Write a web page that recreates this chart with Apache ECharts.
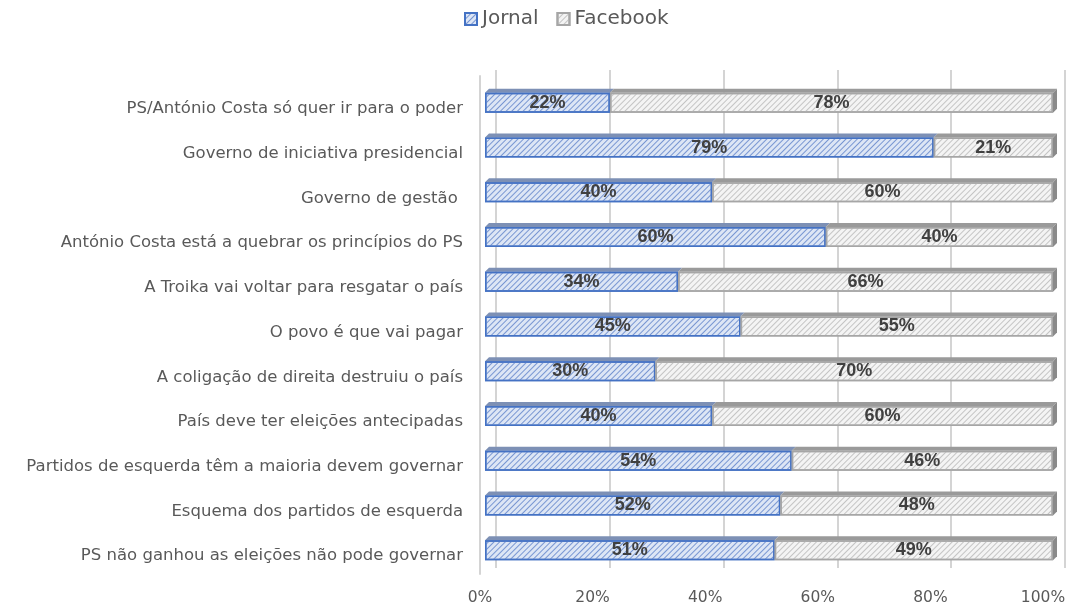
<!DOCTYPE html>
<html lang="pt">
<head>
    <meta charset="UTF-8">
</head>
<style>
    html, body {
        width: 100%;
        height: 100%;
        margin: 0;
        background: #ffffff;
    }
</style>
<body>

<div id="main" style="width:1070px;height:612px;"></div>

<script src="https://cdn.jsdelivr.net/npm/echarts@6/dist/echarts.min.js" type="text/javascript"></script>

<script type="text/javascript">
    // categorias (de cima para baixo)
    var categorias = [
        'PS/António Costa só quer ir para o poder',
        'Governo de iniciativa presidencial',
        'Governo de gestão ',
        'António Costa está a quebrar os princípios do PS',
        'A Troika vai voltar para resgatar o país',
        'O povo é que vai pagar',
        'A coligação de direita destruiu o país',
        'País deve ter eleições antecipadas',
        'Partidos de esquerda têm a maioria devem governar',
        'Esquema dos partidos de esquerda',
        'PS não ganhou as eleições não pode governar'
    ];
    var jornal = [22, 79, 40, 60, 34, 45, 30, 40, 54, 52, 51];
    var facebook = [78, 21, 60, 40, 66, 55, 70, 60, 46, 48, 49];

    var fonte = '"DejaVu Sans", sans-serif';

    var myEcharts = echarts.init(document.getElementById('main'));

    // riscas diagonais tipo ////
    function riscas(cor) {
        return {
            symbol: 'rect',
            color: cor,
            dashArrayX: [1, 0],
            dashArrayY: [1, 3],
            rotation: -Math.PI / 4
        };
    }

    var rotulo = {
        show: true,
        formatter: '{c}%',
        fontFamily: '"Liberation Sans", sans-serif',
        fontSize: 18,
        fontWeight: 'bold',
        color: '#404040'
    };

    // face de cima (efeito 3D) - [indice, inicio, fim]
    var topoJornal = jornal.map(function (v, i) { return [i, 0, v]; });
    var topoFacebook = facebook.map(function (v, i) { return [i, jornal[i], jornal[i] + v]; });

    var meiaAltura = 10, prof = 4;

    function faceTopo(corTopo, corLado, comLado) {
        return function (params, api) {
            var a = api.coord([api.value(1), api.value(0)]);
            var b = api.coord([api.value(2), api.value(0)]);
            var y = a[1] - meiaAltura;
            var filhos = [{
                type: 'polygon',
                shape: {points: [[a[0], y], [b[0], y], [b[0] + prof, y - prof], [a[0] + prof, y - prof]]},
                style: {fill: corTopo}
            }];
            if (comLado) {
                filhos.push({
                    type: 'polygon',
                    shape: {points: [[b[0], y], [b[0] + prof, y - prof], [b[0] + prof, y + 2 * meiaAltura - prof], [b[0], y + 2 * meiaAltura]]},
                    style: {fill: corLado}
                });
            }
            return {type: 'group', children: filhos};
        };
    }

    var option = {
        animation: false,
        legend: {
            top: 4,
            left: 459,
            icon: 'rect',
            itemWidth: 12,
            itemHeight: 12,
            itemGap: 18,
            textStyle: {fontFamily: fonte, fontSize: 20, color: '#595959'},
            data: ['Jornal', 'Facebook']
        },
        grid: [
            // barras
            {left: 485, right: 17, top: 80.5, bottom: 39.5, outerBoundsMode: 'none'},
            // parede do fundo (linhas de grelha)
            {left: 496, right: 5, top: 70, bottom: 44, outerBoundsMode: 'none'},
            // etiquetas do eixo x
            {left: 480, right: 27, top: 76, bottom: 38, outerBoundsMode: 'none'}
        ],
        xAxis: [
            {
                gridIndex: 0, type: 'value', min: 0, max: 100, interval: 20,
                axisLabel: {show: false}, axisLine: {show: false}, axisTick: {show: false},
                splitLine: {show: false}
            },
            {
                gridIndex: 1, type: 'value', min: 0, max: 100, interval: 20,
                axisLabel: {show: false}, axisLine: {show: false}, axisTick: {show: false},
                splitLine: {show: true, lineStyle: {color: '#d4d4d4', width: 2}}
            },
            {
                gridIndex: 2, type: 'value', min: 0, max: 100, interval: 20,
                axisLabel: {
                    formatter: '{value}%',
                    fontFamily: fonte,
                    fontSize: 15.5,
                    color: '#595959',
                    margin: 16
                },
                axisLine: {show: false}, axisTick: {show: false}, splitLine: {show: false}
            }
        ],
        yAxis: [
            {
                gridIndex: 0,
                type: 'category',
                inverse: true,
                data: categorias,
                axisLabel: {
                    fontFamily: fonte,
                    fontSize: 16.5,
                    color: '#595959',
                    margin: 22,
                    verticalAlign: 'top',
                    lineHeight: 12
                },
                axisLine: {show: false},
                axisTick: {show: false}
            },
            {gridIndex: 1, type: 'value', show: false},
            {
                gridIndex: 2, type: 'value',
                axisLabel: {show: false}, axisTick: {show: false}, splitLine: {show: false},
                axisLine: {show: true, lineStyle: {color: '#d4d4d4', width: 2}}
            }
        ],
        series: [
            {
                name: 'Jornal',
                type: 'bar',
                stack: 'total',
                barWidth: 20,
                data: jornal,
                itemStyle: {
                    color: '#dde6f5',
                    borderColor: '#4472c4',
                    borderWidth: 1.5,
                    decal: riscas('#7896d2')
                },
                label: rotulo,
                z: 3
            },
            {
                name: 'Facebook',
                type: 'bar',
                stack: 'total',
                barWidth: 20,
                data: facebook,
                itemStyle: {
                    color: '#f4f4f4',
                    borderColor: '#a6a6a6',
                    borderWidth: 1.5,
                    decal: riscas('#c4c4c4')
                },
                label: rotulo,
                z: 3
            },
            {
                type: 'custom',
                renderItem: faceTopo('#7d90b5', '#6f7f9f', false),
                data: topoJornal,
                encode: {x: [1, 2], y: 0},
                silent: true,
                z: 2
            },
            {
                type: 'custom',
                renderItem: faceTopo('#9a9a9a', '#8a8a8a', true),
                data: topoFacebook,
                encode: {x: [1, 2], y: 0},
                silent: true,
                z: 2
            }
        ]
    };

    myEcharts.setOption(option);
</script>
</body>
</html>
